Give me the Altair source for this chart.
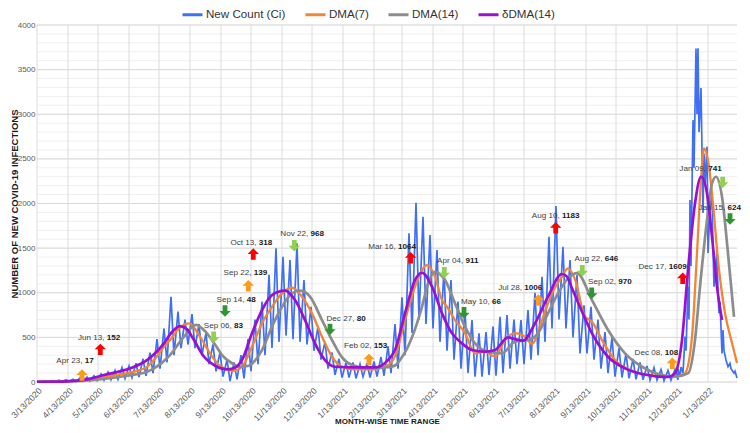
import altair as alt
import pandas as pd

START = pd.Timestamp("2020-03-13")
END = pd.Timestamp("2022-02-11")

SERIES = ["New Count (Ci)", "DMA(7)", "DMA(14)", "δDMA(14)"]
COLORS = ["#3f6ff4", "#f28533", "#8c8c8c", "#9a10d0"]

TICK_LABELS = ["3/13/2020", "4/13/2020", "5/13/2020", "6/13/2020", "7/13/2020", "8/13/2020",
               "9/13/2020", "10/13/2020", "11/13/2020", "12/13/2020", "1/13/2021", "2/13/2021",
               "3/13/2021", "4/13/2021", "5/13/2021", "6/13/2021", "7/13/2021", "8/13/2021",
               "9/13/2021", "10/13/2021", "11/13/2021", "12/13/2021", "1/13/2022"]
Y_LABELS = [0, 500, 1000, 1500, 2000, 2500, 3000, 3500, 4000]
Y_MINOR_STEP = 100

# New Count (Ci): weekly high / weekly low readings (week k starts START + 7k days)
ci_week_peaks = [8, 12, 15, 20, 25, 30, 45, 55, 70, 90, 110, 130, 160, 180, 210, 260, 330, 480,
                 600, 956, 790, 700, 760, 650, 550, 420, 330, 250, 220, 300, 480, 700, 900, 1200,
                 1497, 1404, 1366, 1553, 1142, 843, 620, 450, 330, 260, 220, 220, 200, 210, 230,
                 280, 400, 650, 950, 1665, 2008, 1851, 1646, 1478, 1254, 1142, 900, 806, 694, 545,
                 560, 620, 731, 750, 700, 694, 806, 1000, 1180, 1627, 1971, 1515, 1366, 1200, 860,
                 843, 700, 560, 500, 380, 320, 260, 220, 180, 160, 140, 130, 140]
ci_week_troughs = [0, 2, 3, 2, 5, 6, 8, 10, 15, 20, 25, 30, 40, 50, 55, 70, 100, 150, 220, 300,
                   380, 420, 380, 300, 200, 120, 60, 10, 30, 40, 120, 200, 300, 380, 450, 520, 480,
                   450, 420, 350, 250, 150, 80, 50, 50, 40, 60, 50, 60, 70, 100, 150, 300, 550, 700,
                   650, 600, 450, 350, 250, 150, 100, 60, 60, 80, 70, 100, 150, 200, 200, 250, 300,
                   450, 600, 700, 600, 500, 320, 320, 250, 150, 100, 60, 50, 40, 30, 25, 20, 20, 15,
                   20, 25]
# New Count (Ci) through the last surge (day offsets from START)
ci_late_days = [641, 643, 644, 646, 648, 649, 651, 652, 653, 654, 656, 657, 659, 660, 661, 662,
                664, 666, 667, 668, 670, 671, 673, 675, 676, 677, 680, 681, 682, 683, 685, 686,
                687, 689, 691, 693, 694, 697, 698, 700]
ci_late_vals = [150, 60, 168, 100, 508, 350, 1068, 700, 2038, 1300, 2934, 2400, 3737, 3000, 3740,
                2800, 3293, 1893, 2560, 2200, 2635, 1445, 1943, 2116, 1500, 1068, 1445, 1000, 771,
                900, 321, 582, 350, 246, 171, 208, 150, 100, 120, 45]

dma7_days = [0, 20, 40, 60, 80, 100, 110, 117, 127, 133, 143, 152, 163, 173, 182, 188, 196, 205,
             215, 225, 235, 245, 255, 265, 275, 285, 295, 305, 318, 335, 351, 358, 368, 378, 385,
             390, 398, 405, 410, 418, 428, 438, 448, 458, 468, 478, 488, 495, 505, 515, 525, 531,
             538, 548, 555, 565, 578, 598, 621, 638, 648, 655, 660, 664, 667, 671, 676, 681, 688,
             695, 700]
dma7_vals = [3, 5, 15, 40, 80, 125, 170, 246, 396, 470, 612, 657, 508, 321, 190, 150, 125, 171,
             396, 657, 843, 993, 1056, 956, 769, 508, 283, 171, 142, 142, 190, 290, 694, 1068, 1254,
             1310, 1180, 918, 843, 694, 548, 321, 340, 283, 470, 548, 508, 426, 694, 993, 1180,
             1273, 1150, 731, 675, 470, 246, 115, 67, 60, 100, 508, 1445, 2262, 2617, 2486, 2000,
             1366, 773, 437, 212]

dma14_days = [0, 30, 60, 90, 110, 117, 133, 147, 159, 168, 178, 185, 195, 203, 211, 218, 225, 235,
              245, 255, 263, 273, 285, 295, 305, 315, 331, 351, 358, 363, 371, 385, 391, 398, 408,
              418, 428, 438, 451, 465, 478, 491, 501, 511, 521, 531, 540, 555, 571, 588, 605, 621,
              638, 651, 658, 663, 670, 675, 679, 685, 691, 697]
dma14_vals = [3, 6, 25, 70, 115, 153, 302, 508, 640, 570, 420, 302, 210, 170, 179, 240, 358, 620,
              843, 993, 1023, 956, 694, 470, 276, 190, 153, 165, 185, 246, 396, 843, 1105, 1235,
              1142, 881, 620, 433, 340, 321, 452, 470, 545, 769, 993, 1161, 1220, 918, 582, 321,
              171, 90, 60, 97, 470, 1068, 1814, 2225, 2300, 2075, 1441, 731]

ddma14_days = [0, 30, 50, 67, 93, 110, 127, 135, 143, 150, 157, 167, 177, 185, 191, 198, 205, 215,
               225, 235, 248, 258, 268, 278, 288, 298, 318, 338, 351, 358, 368, 378, 385, 395, 405,
               415, 425, 435, 448, 458, 471, 478, 486, 498, 511, 525, 530, 535, 543, 555, 571, 588,
               605, 631, 638, 645, 651, 658, 664, 670, 675, 680, 685]
ddma14_vals = [3, 8, 30, 78, 153, 246, 433, 560, 627, 590, 470, 283, 190, 150, 142, 160, 246, 545,
               806, 974, 1023, 918, 694, 433, 246, 171, 164, 164, 246, 358, 769, 1142, 1224, 1068,
               769, 545, 433, 358, 340, 358, 500, 480, 463, 657, 956, 1210, 1180, 1050, 840, 545,
               283, 153, 90, 56, 100, 470, 1254, 2000, 2300, 2116, 1628, 1068, 694]

# annotations: label text, bold number, text anchor (day, value), arrow anchor (day, value)
ann_label = ["Apr 23,", "Jun 13,", "Sep 06,", "Sep 14,", "Sep 22,", "Oct 13,", "Nov 22,",
             "Dec 27,", "Feb 02,", "Mar 16,", "Apr 04,", "May 10,", "Jul 28,", "Aug 10,",
             "Aug 22,", "Sep 02,", "Dec 08,", "Dec 17,", "Jan 09,", "Jan 15,"]
ann_number = ["17", "152", "83", "48", "139", "318", "968", "80", "153", "1064", "911", "66",
              "1006", "1183", "646", "970", "108", "1609", "741", "624"]
ann_text_day = [47.7, 69.8, 197, 209.7, 216.8, 221.8, 273.5, 319.7, 336.8, 361, 428.5, 455,
                487.3, 525, 567.8, 581.2, 627.8, 631.7, 671.2, 690.5]
ann_text_val = [239, 493, 627, 919, 1218, 1561, 1658, 706, 400, 1509, 1359, 896, 1050, 1857,
                1375, 1124, 328, 1292, 2386, 1946]
ann_arrow_day = [45, 63.3, 176.7, 188, 211.3, 216.3, 257.3, 293, 332, 373.7, 407.3, 427, 501.3,
                 518.7, 545.3, 554.7, 635.3, 645.7, 685.7, 693]
ann_arrow_val = [78, 366, 501, 795, 1079, 1434, 1527, 590, 254, 1393, 1225, 776, 919, 1729, 1247,
                 994, 210, 1162, 2237, 1826]
ann_arrow_kind = ["rise", "peak", "fall", "end", "rise", "peak", "fall", "end", "rise", "peak",
                  "fall", "end", "rise", "peak", "fall", "end", "rise", "peak", "fall", "end"]

KIND_COLOR = {"rise": "#ff9a1a", "peak": "#ff0000", "fall": "#92d050", "end": "#2f962f"}
UP = "M0,-1 L1,0 L0.42,0 L0.42,1 L-0.42,1 L-0.42,0 L-1,0 Z"
DOWN = "M0,1 L1,0 L0.42,0 L0.42,-1 L-0.42,-1 L-0.42,0 L-1,0 Z"


def day(x):
    return START + pd.Timedelta(days=x)


rows = [(day(0), 2, SERIES[0])]
for k, (h, l) in enumerate(zip(ci_week_peaks, ci_week_troughs)):
    rows.append((day(7 * k + 1), h, SERIES[0]))
    rows.append((day(7 * k + 4), l, SERIES[0]))
for d, v in zip(ci_late_days, ci_late_vals):
    rows.append((day(d), v, SERIES[0]))
for name, ds, vs in [(SERIES[1], dma7_days, dma7_vals), (SERIES[2], dma14_days, dma14_vals),
                     (SERIES[3], ddma14_days, ddma14_vals)]:
    for d, v in zip(ds, vs):
        rows.append((day(d), v, name))
df = pd.DataFrame(rows, columns=["date", "value", "series"])

ann = pd.DataFrame({
    "label": ann_label,
    "number": ann_number,
    "tdate": [day(d) for d in ann_text_day],
    "tval": ann_text_val,
    "adate": [day(d) for d in ann_arrow_day],
    "aval": ann_arrow_val,
    "kind": ann_arrow_kind,
})
ann["color"] = ann["kind"].map(KIND_COLOR)
ann["up"] = ann["kind"].isin(["rise", "peak"])

ticks = []
tick_ts = []
for t in TICK_LABELS:
    m, dd, y = (int(p) for p in t.split("/"))
    ticks.append(alt.DateTime(year=y, month=m, date=dd))
    tick_ts.append(pd.Timestamp(year=y, month=m, day=dd))

xscale = alt.Scale(domain=[alt.DateTime(year=START.year, month=START.month, date=START.day),
                           alt.DateTime(year=END.year, month=END.month, date=END.day)])
yscale = alt.Scale(domain=[0, 4000], nice=False)

XTITLE = "MONTH-WISE TIME RANGE"
xaxis = alt.Axis(values=ticks, format="%-m/%-d/%Y", labelAngle=-45, labelFontSize=8.7,
                 labelColor="#595959", labelPadding=4, labelOverlap=False, labelBound=False,
                 ticks=False, domain=False, grid=False,
                 title=XTITLE, titleFontSize=8,
                 titleFontWeight="bold", titleColor="#1a1a1a", titleY=39,
                 titleBaseline="middle")
yaxis = alt.Axis(values=Y_LABELS, format="d", labelFontSize=8, labelColor="#595959",
                 labelPadding=2, labelOverlap=False, labelBound=False,
                 ticks=False, domain=False, grid=False,
                 title="NUMBER OF NEW COVID-19 INFECTIONS", titleFontSize=9.5,
                 titleFontWeight="bold", titleColor="#1a1a1a", titleX=-23,
                 titleBaseline="middle")

legend = alt.Legend(orient="none", legendX=144, legendY=-22, direction="horizontal", title=None,
                    symbolType="stroke", symbolSize=400, symbolStrokeWidth=3,
                    labelFontSize=11.6, labelColor="#333333", labelOffset=2, columnPadding=13)

color = alt.Color("series:N", scale=alt.Scale(domain=SERIES, range=COLORS), legend=legend)


def X(field):
    return alt.X(field, scale=xscale, axis=xaxis, title=XTITLE)


# gridlines (drawn as rules through the scales)
minor_df = pd.DataFrame({"g": list(range(0, 4001, Y_MINOR_STEP))})
major_df = pd.DataFrame({"g": Y_LABELS})
vgrid_df = pd.DataFrame({"t": tick_ts})
grid_minor = alt.Chart(minor_df).mark_rule(color="#efefef", strokeWidth=1).encode(
    y=alt.Y("g:Q", scale=yscale, axis=None))
grid_major = alt.Chart(major_df).mark_rule(color="#d9d9d9", strokeWidth=1).encode(
    y=alt.Y("g:Q", scale=yscale, axis=None))
grid_v = alt.Chart(vgrid_df).mark_rule(color="#dcdcdc", strokeWidth=1).encode(x=X("t:T"))


def line(name, axis, **kw):
    return alt.Chart(df).transform_filter(alt.datum.series == name).mark_line(**kw).encode(
        x=X("date:T"), y=alt.Y("value:Q", scale=yscale, axis=axis), color=color)


layers = [
    grid_minor, grid_major, grid_v,
    line(SERIES[0], yaxis, strokeWidth=1.7),
    line(SERIES[1], None, strokeWidth=2.3, interpolate="monotone"),
    line(SERIES[2], None, strokeWidth=2.7, interpolate="monotone"),
    line(SERIES[3], None, strokeWidth=2.7, interpolate="monotone"),
]

abase = alt.Chart(ann)
ay_a = alt.Y("aval:Q", scale=yscale, axis=None)
ay_t = alt.Y("tval:Q", scale=yscale, axis=None)
up_arrows = abase.transform_filter(alt.datum.up).mark_point(
    shape=UP, filled=True, size=130, opacity=1, strokeWidth=0).encode(
    x=X("adate:T"), y=ay_a, fill=alt.Fill("color:N", scale=None))
down_arrows = abase.transform_filter(~alt.datum.up).mark_point(
    shape=DOWN, filled=True, size=130, opacity=1, strokeWidth=0).encode(
    x=X("adate:T"), y=ay_a, fill=alt.Fill("color:N", scale=None))
txt1 = abase.mark_text(align="right", baseline="middle", dx=-2.3, fontSize=8.1,
                       color="#404040").encode(x=X("tdate:T"), y=ay_t, text="label:N")
txt2 = abase.mark_text(align="left", baseline="middle", fontSize=8.1, fontWeight="bold",
                       color="#1a1a1a").encode(x=X("tdate:T"), y=ay_t, text="number:N")

chart = alt.layer(*layers, up_arrows, down_arrows, txt1, txt2).resolve_axis(
    y="independent"
).properties(
    width=700, height=357,
    padding={"left": 29, "top": 17, "right": 5, "bottom": 43},
    autosize="none",
    background="white",
).configure(font="Liberation Sans").configure_axis(grid=False).configure_view(stroke=None)

chart.save("out.html", embed_options={"renderer": "svg", "actions": False})
